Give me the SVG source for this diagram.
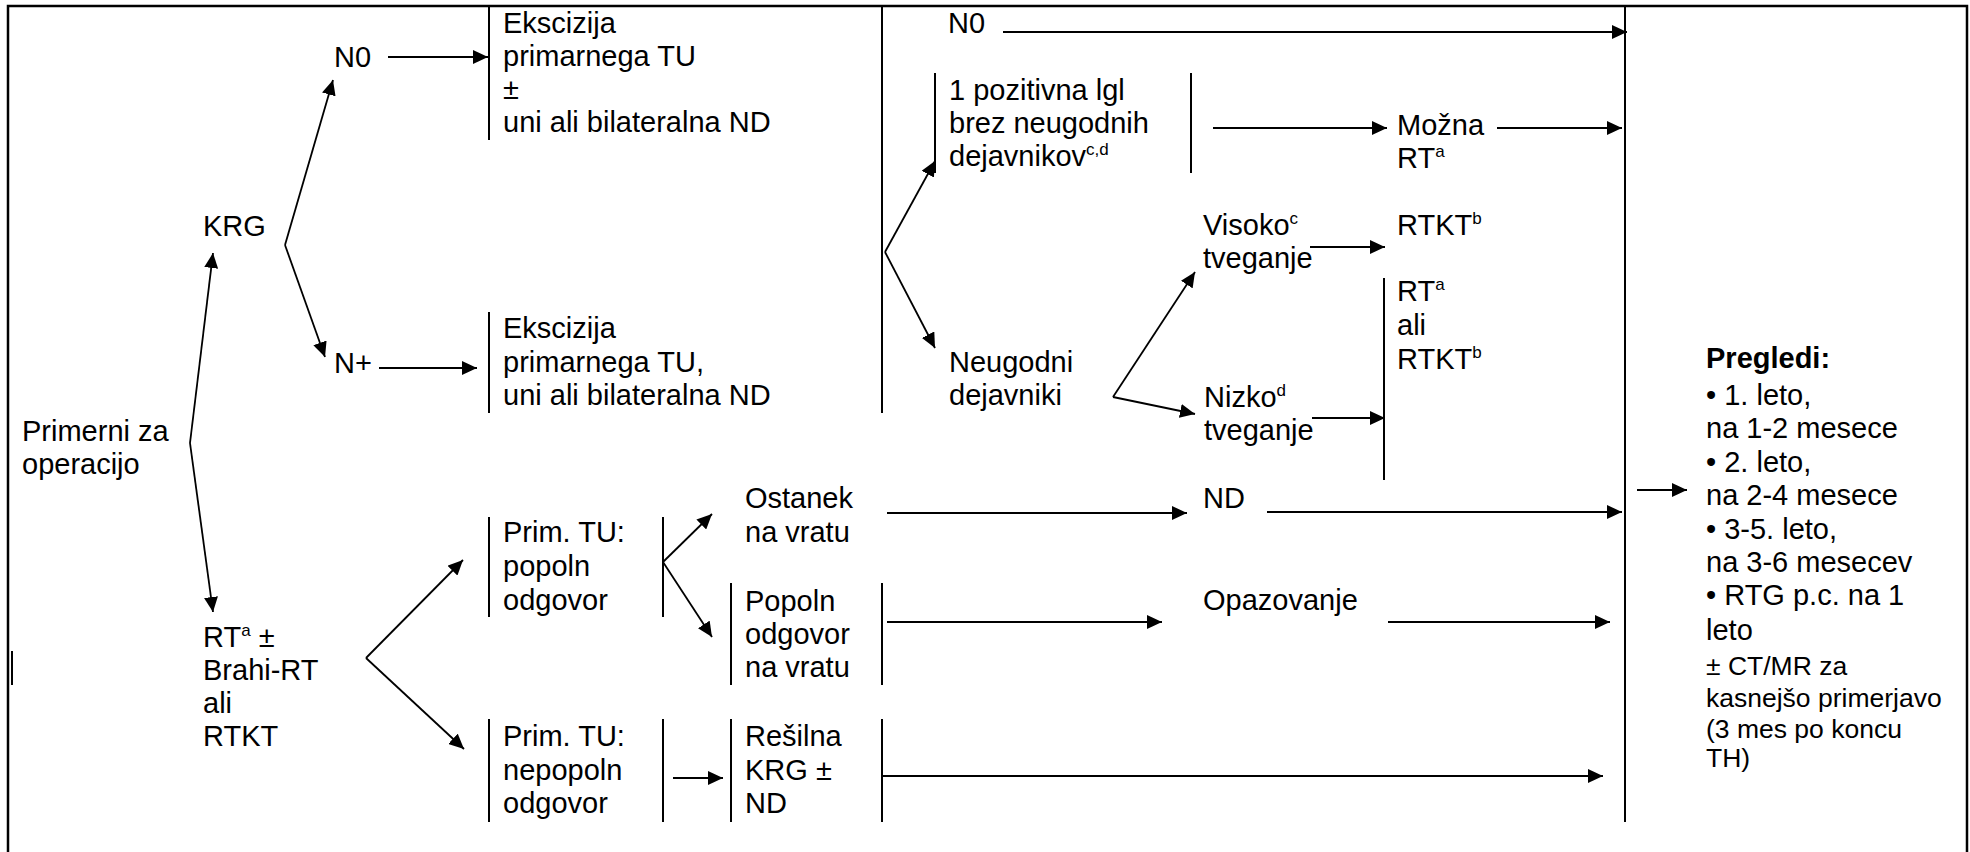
<svg xmlns="http://www.w3.org/2000/svg" width="1970" height="852" viewBox="0 0 1970 852">
  <style>
    .t { font-family: "Liberation Sans", Arial, sans-serif; font-size: 29px; fill: #000; }
    .s { font-size: 26.5px; }
    .b { font-weight: bold; }
    .sup { font-size: 17px; }
    .bar { stroke: #000; stroke-width: 2; fill: none; }
    .frame { stroke: #000; stroke-width: 2.5; fill: none; }
    .arr { stroke: #000; stroke-width: 1.8; fill: none; marker-end: url(#head); }
  </style>
  <defs>
    <marker id="head" markerUnits="userSpaceOnUse" markerWidth="16" markerHeight="14" refX="15" refY="7" orient="auto">
      <path d="M0,0 L15,7 L0,14 z" fill="#000"/>
    </marker>
  </defs>
  <rect width="1970" height="852" fill="#fff"/>

  <!-- outer frame and column dividers -->
  <g id="frame">
    <path class="frame" d="M8,860 V6 H1967 V860"/>
    <line class="bar" x1="1625" y1="6" x2="1625" y2="822"/>
    <line class="bar" x1="12" y1="651" x2="12" y2="685" stroke-width="1.5"/>
  </g>

  <!-- bracket bars beside node texts -->
  <g id="brackets">
    <line class="bar" x1="489" y1="6" x2="489" y2="140"/>
    <line class="bar" x1="489" y1="312" x2="489" y2="413"/>
    <line class="bar" x1="489" y1="517" x2="489" y2="617"/>
    <line class="bar" x1="489" y1="719" x2="489" y2="822"/>
    <line class="bar" x1="663" y1="517" x2="663" y2="617"/>
    <line class="bar" x1="663" y1="719" x2="663" y2="822"/>
    <line class="bar" x1="731" y1="583" x2="731" y2="685"/>
    <line class="bar" x1="731" y1="719" x2="731" y2="822"/>
    <line class="bar" x1="882" y1="6" x2="882" y2="413"/>
    <line class="bar" x1="882" y1="583" x2="882" y2="685"/>
    <line class="bar" x1="882" y1="719" x2="882" y2="822"/>
    <line class="bar" x1="935" y1="73" x2="935" y2="173"/>
    <line class="bar" x1="1191" y1="73" x2="1191" y2="173"/>
    <line class="bar" x1="1384" y1="278" x2="1384" y2="480"/>
  </g>

  <g id="connectors">
    <line class="arr" x1="190" y1="443" x2="213" y2="253"/>
    <line class="arr" x1="190" y1="443" x2="213" y2="612"/>
    <line class="arr" x1="285" y1="245" x2="333" y2="80"/>
    <line class="arr" x1="285" y1="245" x2="325" y2="357"/>
    <line class="arr" x1="388" y1="57" x2="488" y2="57"/>
    <line class="arr" x1="379" y1="368" x2="477" y2="368"/>
    <line class="arr" x1="366" y1="658" x2="463" y2="560"/>
    <line class="arr" x1="366" y1="658" x2="464" y2="749"/>
    <line class="arr" x1="885" y1="252" x2="935" y2="161"/>
    <line class="arr" x1="885" y1="252" x2="935" y2="348"/>
    <line class="arr" x1="1003" y1="32" x2="1627" y2="32"/>
    <line class="arr" x1="1213" y1="128" x2="1387" y2="128"/>
    <line class="arr" x1="1497" y1="128" x2="1622" y2="128"/>
    <line class="arr" x1="1113" y1="397" x2="1195" y2="272"/>
    <line class="arr" x1="1113" y1="397" x2="1195" y2="414"/>
    <line class="arr" x1="1310" y1="247" x2="1385" y2="247"/>
    <line class="arr" x1="1312" y1="418" x2="1385" y2="418"/>
    <line class="arr" x1="663" y1="562" x2="712" y2="514"/>
    <line class="arr" x1="663" y1="562" x2="712" y2="637"/>
    <line class="arr" x1="887" y1="513" x2="1187" y2="513"/>
    <line class="arr" x1="1267" y1="512" x2="1622" y2="512"/>
    <line class="arr" x1="887" y1="622" x2="1162" y2="622"/>
    <line class="arr" x1="1388" y1="622" x2="1610" y2="622"/>
    <line class="arr" x1="673" y1="778" x2="723" y2="778"/>
    <line class="arr" x1="882" y1="776" x2="1603" y2="776"/>
    <line class="arr" x1="1637" y1="490" x2="1687" y2="490"/>
  </g>

  <g id="n-primerni"><text class="t"><tspan x="22" y="441">Primerni za</tspan><tspan x="22" y="474">operacijo</tspan></text></g>
  <g id="n-krg"><text class="t" x="203" y="236">KRG</text></g>
  <g id="n-n0-left"><text class="t" x="334" y="67">N0</text></g>
  <g id="n-nplus"><text class="t" x="334" y="373">N+</text></g>
  <g id="n-rt"><text class="t"><tspan x="203" y="647">RT</tspan><tspan class="sup" dy="-11">a</tspan><tspan dy="11"> ±</tspan><tspan x="203" y="680">Brahi-RT</tspan><tspan x="203" y="713">ali</tspan><tspan x="203" y="746">RTKT</tspan></text></g>

  <g id="n-ekscizija-1"><text class="t"><tspan x="503" y="33">Ekscizija</tspan><tspan x="503" y="66">primarnega TU</tspan><tspan x="503" y="99">±</tspan><tspan x="503" y="132">uni ali bilateralna ND</tspan></text></g>
  <g id="n-ekscizija-2"><text class="t"><tspan x="503" y="338">Ekscizija</tspan><tspan x="503" y="372">primarnega TU,</tspan><tspan x="503" y="405">uni ali bilateralna ND</tspan></text></g>
  <g id="n-popoln"><text class="t"><tspan x="503" y="542">Prim. TU:</tspan><tspan x="503" y="576">popoln</tspan><tspan x="503" y="610">odgovor</tspan></text></g>
  <g id="n-nepopoln"><text class="t"><tspan x="503" y="746">Prim. TU:</tspan><tspan x="503" y="780">nepopoln</tspan><tspan x="503" y="813">odgovor</tspan></text></g>

  <g id="n-ostanek"><text class="t"><tspan x="745" y="508">Ostanek</tspan><tspan x="745" y="542">na vratu</tspan></text></g>
  <g id="n-popoln-vrat"><text class="t"><tspan x="745" y="611">Popoln</tspan><tspan x="745" y="644">odgovor</tspan><tspan x="745" y="677">na vratu</tspan></text></g>
  <g id="n-resilna"><text class="t"><tspan x="745" y="746">Rešilna</tspan><tspan x="745" y="780">KRG ±</tspan><tspan x="745" y="813">ND</tspan></text></g>

  <g id="n-n0-right"><text class="t" x="948" y="33">N0</text></g>
  <g id="n-pozitivna"><text class="t"><tspan x="949" y="100">1 pozitivna lgl</tspan><tspan x="949" y="133">brez neugodnih</tspan><tspan x="949" y="166">dejavnikov</tspan><tspan class="sup" dy="-11">c,d</tspan></text></g>
  <g id="n-neugodni"><text class="t"><tspan x="949" y="372">Neugodni</tspan><tspan x="949" y="405">dejavniki</tspan></text></g>
  <g id="n-visoko"><text class="t"><tspan x="1203" y="235">Visoko</tspan><tspan class="sup" dy="-11">c</tspan><tspan x="1203" y="268">tveganje</tspan></text></g>
  <g id="n-nizko"><text class="t"><tspan x="1204" y="407">Nizko</tspan><tspan class="sup" dy="-11">d</tspan><tspan x="1204" y="440">tveganje</tspan></text></g>
  <g id="n-nd"><text class="t" x="1203" y="508">ND</text></g>
  <g id="n-opazovanje"><text class="t" x="1203" y="610">Opazovanje</text></g>

  <g id="n-mozna"><text class="t"><tspan x="1397" y="135">Možna</tspan><tspan x="1397" y="168">RT</tspan><tspan class="sup" dy="-11">a</tspan></text></g>
  <g id="n-rtkt"><text class="t"><tspan x="1397" y="235">RTKT</tspan><tspan class="sup" dy="-11">b</tspan></text></g>
  <g id="n-rt-ali-rtkt"><text class="t"><tspan x="1397" y="301">RT</tspan><tspan class="sup" dy="-11">a</tspan><tspan x="1397" y="335">ali</tspan><tspan x="1397" y="369">RTKT</tspan><tspan class="sup" dy="-11">b</tspan></text></g>

  <g id="n-pregledi">
    <text class="t"><tspan class="b" x="1706" y="368">Pregledi:</tspan><tspan x="1706" y="405">• 1. leto,</tspan><tspan x="1706" y="438">na 1-2 mesece</tspan><tspan x="1706" y="472">• 2. leto,</tspan><tspan x="1706" y="505">na 2-4 mesece</tspan><tspan x="1706" y="539">• 3-5. leto,</tspan><tspan x="1706" y="572">na 3-6 mesecev</tspan><tspan x="1706" y="605">• RTG p.c. na 1</tspan><tspan x="1706" y="640">leto</tspan></text>
    <text class="t s"><tspan x="1706" y="675">± CT/MR za</tspan><tspan x="1706" y="707">kasnejšo primerjavo</tspan><tspan x="1706" y="738">(3 mes po koncu</tspan><tspan x="1706" y="767">TH)</tspan></text>
  </g>
</svg>
